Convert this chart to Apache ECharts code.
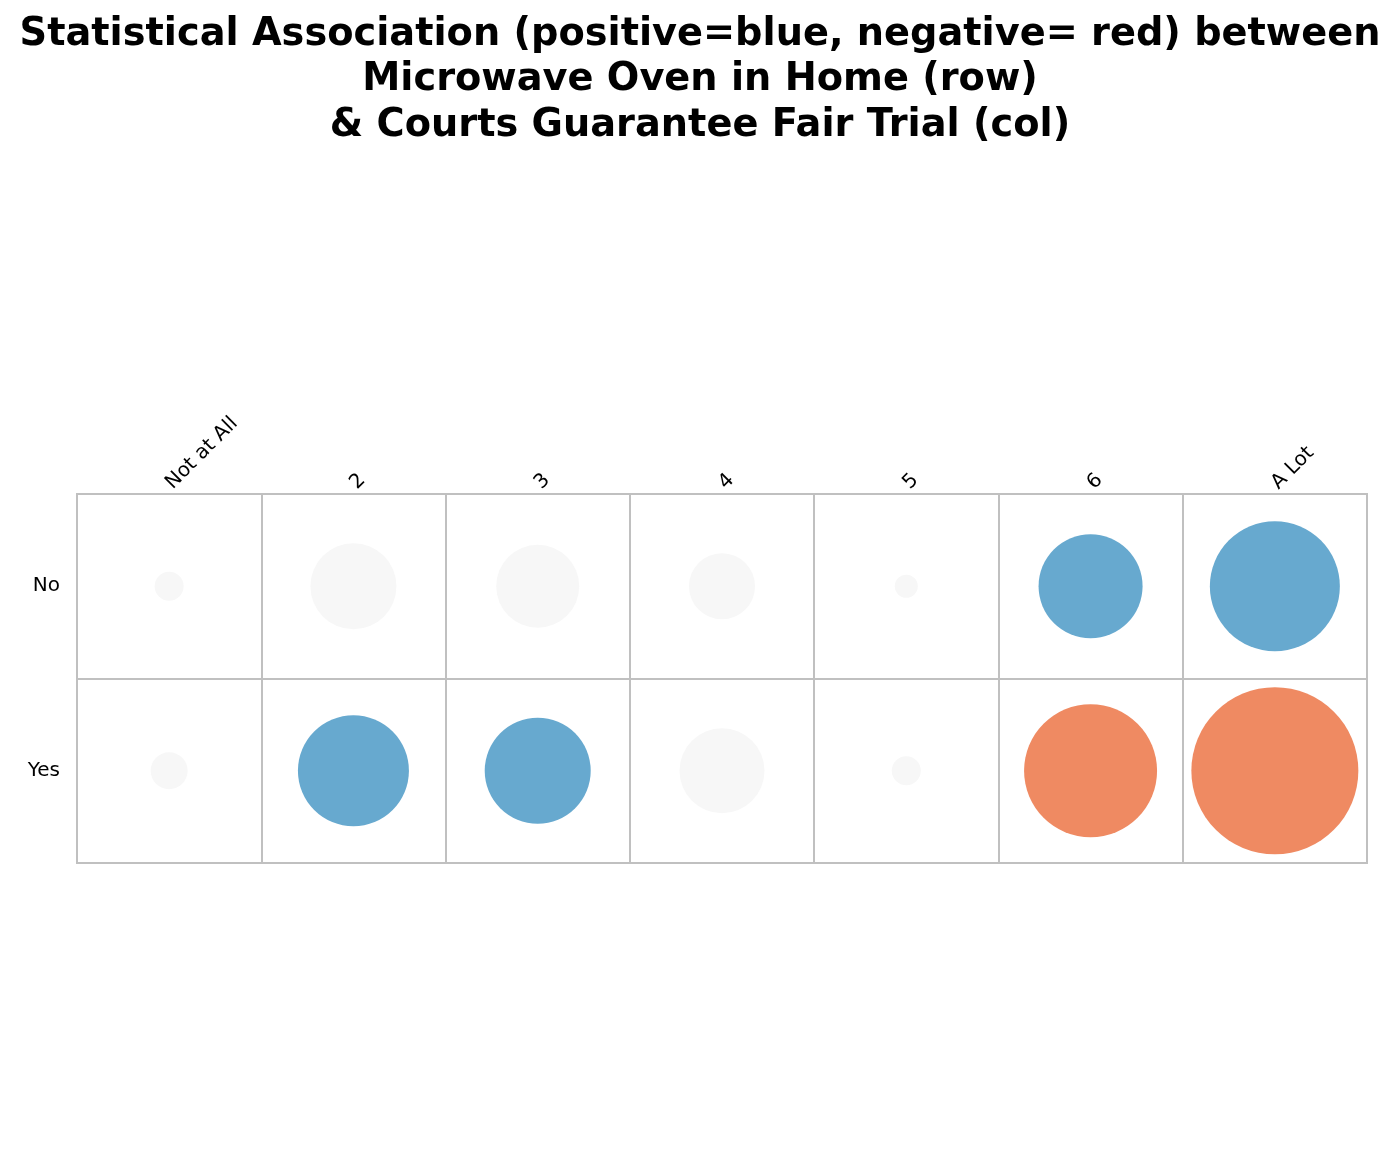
<!DOCTYPE html>
<html>
<head>
<meta charset="utf-8">
<script src="https://cdn.jsdelivr.net/npm/echarts@6/dist/echarts.min.js"></script>
<style>
html,body{margin:0;padding:0;background:#fff;}
#chart{width:1400px;height:1152px;}
</style>
</head>
<body>
<div id="chart"></div>
<script>
// Column categories (Courts Guarantee Fair Trial) and row categories (Microwave Oven in Home)
const colCategories = ['Not at All', '2', '3', '4', '5', '6', 'A Lot'];
const rowCategories = ['No', 'Yes'];

// Strength of association per cell (magnitude)
const strengthNo  = [2.9, 8.6, 8.3, 6.6, 2.3, 10.4, 13.0];
const strengthYes = [3.7, 11.1, 10.6, 8.5, 2.9, 13.3, 16.7];

// Direction: 1 = positive (blue), -1 = negative (red), 0 = not significant (grey)
const directionNo  = [0, 0, 0, 0, 0, 1, 1];
const directionYes = [0, 1, 1, 0, 0, -1, -1];

const titleText = 'Statistical Association (positive=blue, negative= red) between\nMicrowave Oven in Home (row)\n& Courts Guarantee Fair Trial (col)';

const strengths = [strengthNo, strengthYes];
const directions = [directionNo, directionYes];
const data = [];
rowCategories.forEach(function (r, ri) {
  colCategories.forEach(function (c, ci) {
    data.push([ci, ri, strengths[ri][ci], directions[ri][ci]]);
  });
});

const colorFor = { '1': '#67a9cf', '-1': '#ef8a62', '0': '#f7f7f7' };
const gridColor = '#c0c0c0';
const font = 'DejaVu Sans';

const chart = echarts.init(document.getElementById('chart'), null, { renderer: 'canvas' });
chart.setOption({
  backgroundColor: '#ffffff',
  animation: false,
  title: {
    text: titleText,
    left: 'center',
    top: 7,
    textStyle: {
      fontFamily: font,
      fontWeight: 'bold',
      fontSize: 38.3,
      lineHeight: 45.5,
      color: '#000'
    }
  },
  grid: {
    left: 77, right: 33, top: 494, bottom: 289,
    show: true,
    borderColor: gridColor,
    borderWidth: 2,
    backgroundColor: 'transparent'
  },
  xAxis: {
    type: 'category',
    position: 'top',
    data: colCategories,
    boundaryGap: true,
    axisTick: { show: false },
    axisLine: { show: true, lineStyle: { color: gridColor, width: 2 } },
    splitLine: { show: true, interval: 0, lineStyle: { color: gridColor, width: 2 } },
    axisLabel: {
      interval: 0,
      rotate: -45,
      margin: 8,
      fontFamily: font,
      fontSize: 20,
      color: '#000'
    }
  },
  yAxis: {
    type: 'category',
    data: rowCategories,
    inverse: true,
    boundaryGap: true,
    axisTick: { show: false },
    axisLine: { show: true, lineStyle: { color: gridColor, width: 2 } },
    splitLine: { show: true, interval: 0, lineStyle: { color: gridColor, width: 2 } },
    axisLabel: {
      margin: 17,
      fontFamily: font,
      fontSize: 20,
      color: '#000'
    }
  },
  series: [{
    type: 'scatter',
    data: data,
    silent: true,
    symbol: 'circle',
    symbolSize: function (v) { return v[2] * 10; },
    itemStyle: {
      opacity: 1,
      color: function (p) { return colorFor[String(p.data[3])]; }
    }
  }]
});
</script>
</body>
</html>
